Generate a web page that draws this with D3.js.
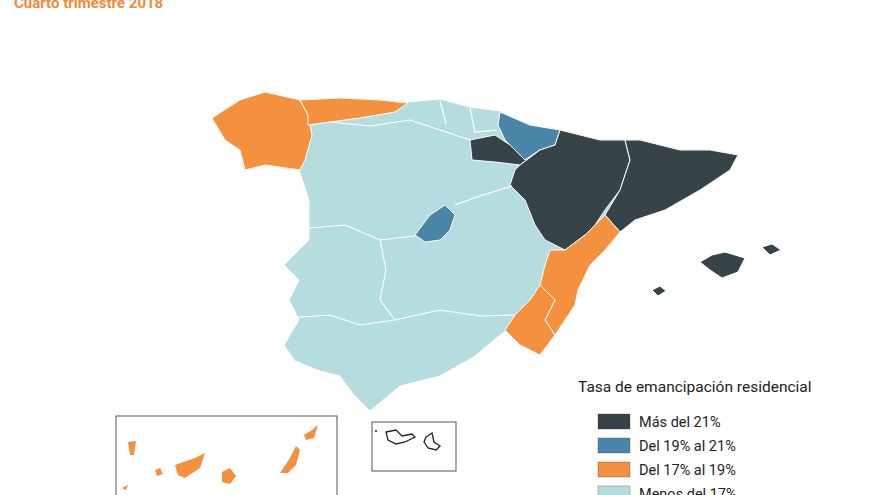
<!DOCTYPE html>
<html><head><meta charset="utf-8">
<script src="https://cdn.jsdelivr.net/npm/d3@7"></script>
<style>body{margin:0;background:#fff;font-family:Roboto,"Noto Sans",sans-serif}</style>
</head><body><div id="map"></div>
<script>
// emancipation classes
const classes = ["Más del 21%", "Del 19% al 21%", "Del 17% al 19%", "Menos del 17%"];
const colors = ["#36444a", "#4a86a8", "#f4913f", "#b5dcdf"];

// rough region outlines (screen units) and their class
const mainland = [[212,118],[240,100],[265,92],[300,100],[340,98],[380,100],[408,103],[440,100],[470,108],[500,112],[530,125],[560,130],[600,140],[640,140],[680,150],[710,150],[738,155],[730,170],[700,190],[665,210],[635,220],[620,232],[605,250],[590,265],[578,290],[575,305],[565,320],[555,335],[540,355],[520,345],[505,330],[475,355],[440,375],[400,385],[370,410],[355,395],[340,375],[320,370],[295,360],[285,345],[300,320],[290,300],[300,280],[285,265],[310,240],[310,200],[300,170],[265,165],[245,170],[240,150],[225,140]];
const regions = [
  {name:"Galicia", cls:2, pts:[[212,118],[240,100],[265,92],[300,100],[308,115],[312,135],[305,160],[300,170],[265,165],[245,170],[240,150],[225,140]]},
  {name:"Asturias", cls:2, pts:[[300,100],[340,98],[380,100],[408,103],[395,112],[360,118],[330,122],[308,125],[308,115]]},
  {name:"Navarra", cls:1, pts:[[500,112],[530,125],[560,130],[555,145],[540,150],[525,160],[515,150],[505,140],[498,125]]},
  {name:"La Rioja", cls:0, pts:[[470,140],[495,135],[510,145],[525,160],[540,150],[520,165],[495,162],[472,160]]},
  {name:"Aragón", cls:0, pts:[[540,150],[555,145],[560,130],[600,140],[625,140],[630,160],[620,190],[605,210],[595,225],[585,235],[565,250],[545,240],[535,225],[525,200],[510,185],[515,170],[520,165]]},
  {name:"Cataluña", cls:0, pts:[[625,140],[640,140],[680,150],[710,150],[738,155],[730,170],[700,190],[665,210],[635,220],[620,232],[605,215],[620,190],[630,160]]},
  {name:"C. Valenciana", cls:2, pts:[[585,235],[605,215],[620,232],[605,250],[590,265],[578,290],[575,305],[565,320],[555,335],[545,320],[555,300],[540,285],[545,265],[550,250],[565,250]]},
  {name:"Murcia", cls:2, pts:[[540,285],[555,300],[545,320],[555,335],[540,355],[520,345],[505,330],[515,315],[530,300]]},
  {name:"Madrid", cls:1, pts:[[415,235],[430,215],[445,205],[455,215],[450,230],[440,240],[425,242]]},
  {name:"Mallorca", cls:0, pts:[[700,262],[712,255],[725,252],[745,258],[738,272],[722,278],[710,270]]},
  {name:"Menorca", cls:0, pts:[[762,247],[772,244],[781,250],[770,255]]},
  {name:"Ibiza", cls:0, pts:[[652,290],[660,286],[666,291],[658,296]]}
];
const borders = [
  [[310,228],[345,225],[380,240],[415,236]],
  [[455,205],[480,196],[512,186]],
  [[380,240],[386,270],[380,300],[395,320]],
  [[288,318],[330,315],[360,325],[395,320],[440,310],[480,316],[515,315]],
  [[330,122],[370,126],[410,120],[440,130],[470,140]],
  [[440,101],[446,124]],[[470,108],[475,132],[497,130]]
];
const canarias = [
  [[128,442],[136,441],[134,455],[130,455]],
  [[155,470],[160,468],[163,474],[157,476]],
  [[175,465],[195,458],[205,453],[200,468],[185,478],[178,475]],
  [[222,472],[230,468],[236,476],[230,484],[222,482]],
  [[290,458],[296,446],[300,450],[296,465],[288,473],[280,473]],
  [[304,435],[312,430],[318,425],[314,438],[306,440]],
  [[122,488],[128,485],[126,490]]
];
const ceutaMelilla = [
  [[386,432],[396,430],[402,436],[412,434],[415,437],[405,442],[396,444],[388,440]],
  [[426,437],[432,433],[434,442],[440,446],[436,450],[428,448],[424,442]]
];

const width = 880, height = 495;
const svg = d3.select("#map").append("svg").attr("width", width).attr("height", height);
const path = d3.geoPath(d3.geoIdentity());
const poly = p => ({type:"Polygon", coordinates:[p.concat([p[0]])]});
const line = p => ({type:"LineString", coordinates:p});

svg.append("text").attr("x", 14).attr("y", 8)
  .attr("fill", "#f0893a").attr("font-weight", "bold").attr("font-size", 15)
  .text("Cuarto trimestre 2018");

svg.append("path").attr("d", path(poly(mainland)))
  .attr("fill", colors[3]).attr("stroke", colors[3]).attr("stroke-width", 1);

svg.selectAll("path.region").data(regions).enter().append("path")
  .attr("class", "region")
  .attr("d", d => path(poly(d.pts)))
  .attr("fill", d => colors[d.cls])
  .attr("stroke", "#fff").attr("stroke-width", 1);

svg.selectAll("path.border").data(borders).enter().append("path")
  .attr("class", "border").attr("d", d => path(line(d)))
  .attr("fill", "none").attr("stroke", "#fff").attr("stroke-width", 1.2);

// insets
svg.append("rect").attr("x", 116).attr("y", 416).attr("width", 221).attr("height", 90)
  .attr("fill", "none").attr("stroke", "#555");
svg.selectAll("path.can").data(canarias).enter().append("path")
  .attr("class", "can").attr("d", d => path(poly(d))).attr("fill", colors[2]);
svg.append("rect").attr("x", 372).attr("y", 422).attr("width", 84).attr("height", 49)
  .attr("fill", "none").attr("stroke", "#555");
svg.selectAll("path.cm").data(ceutaMelilla).enter().append("path")
  .attr("d", d => path(poly(d))).attr("fill", "none").attr("stroke", "#222").attr("stroke-width", 1.3);
svg.append("circle").attr("cx", 376).attr("cy", 431).attr("r", 1).attr("fill", "#222");

// legend
const lg = svg.append("g");
lg.append("text").attr("x", 578).attr("y", 392).attr("font-size", 15.5).attr("fill", "#222")
  .text("Tasa de emancipación residencial");
const items = lg.selectAll("g.item").data(classes).enter().append("g")
  .attr("transform", (d, i) => `translate(598,${414 + i * 24})`);
items.append("rect").attr("width", 32).attr("height", 15)
  .attr("fill", (d, i) => colors[i]).attr("stroke", "#333").attr("stroke-opacity", 0.3);
items.append("text").attr("x", 41).attr("y", 13).attr("font-size", 14.5).attr("fill", "#222")
  .text(d => d);
</script></body></html>
